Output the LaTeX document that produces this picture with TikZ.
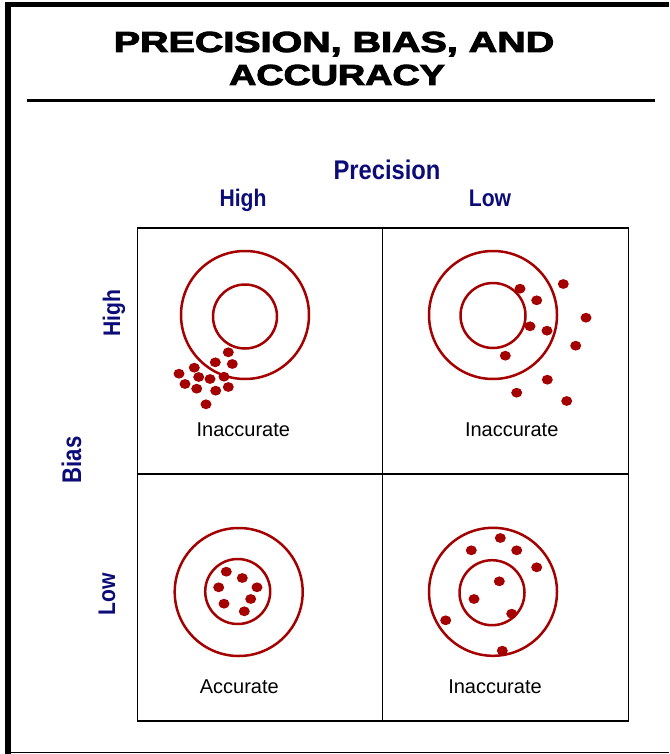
\documentclass[tikz,border=0pt]{standalone}
\usepackage{graphicx}
\usepackage{fontspec}
\setmainfont{Liberation Sans}
\newfontfamily\titlefont[FakeBold=3]{Liberation Sans Bold}
\usetikzlibrary{positioning}
\definecolor{navy}{RGB}{12,12,120}
\definecolor{target}{RGB}{165,0,0}

\begin{document}
\begin{tikzpicture}[x=1pt, y=-1pt,
    heading/.style={font=\titlefont\fontsize{29}{29}\selectfont, inner sep=0pt, anchor=base},
    axis/.style={text=navy, font=\bfseries\fontsize{24}{24}\selectfont, inner sep=0pt, anchor=base},
    verdict/.style={font=\fontsize{20}{20}\selectfont, inner sep=0pt},
    ring/.style={draw=target, line width=2.5pt},
    hit/.style={fill=target}]
    \useasboundingbox (0,0) rectangle (669,754);
    % page frame
    \draw[line width=5.5pt] (8,754) -- (8,4.5) -- (669,4.5);
    \draw[line width=1.5pt] (8,752.5) -- (669,752.5);
    % title
    \node[heading] (title1) at (334,52) {\scalebox{1.36}[1]{PRECISION, BIAS, AND}};
    \node[heading] (title2) at (337,85) {\scalebox{1.3}[1]{ACCURACY}};
    \draw[line width=3pt] (27,100.5) -- (655,100.5);
    % axes
    \node[axis, font=\bfseries\fontsize{27}{27}\selectfont] (precision) at (387,179) {\scalebox{0.88}[1]{Precision}};
    \node[axis] (phigh) at (243,206) {\scalebox{0.88}[1]{High}};
    \node[axis] (plow) at (490,206) {\scalebox{0.88}[1]{Low}};
    \node[axis, rotate=90, font=\bfseries\fontsize{27}{27}\selectfont] (bias) at (81,460) {\scalebox{0.82}[1]{Bias}};
    \node[axis, rotate=90] (bhigh) at (120,313) {\scalebox{0.88}[1]{High}};
    \node[axis, rotate=90] (blow) at (115,594) {\scalebox{0.88}[1]{Low}};
    % grid
    \draw[line width=1.5pt] (137.5,228) rectangle (628.5,721);
    \draw[line width=1.5pt] (382.5,228) -- (382.5,721);
    \draw[line width=2pt] (137.5,474) -- (628.5,474);
    % high bias, high precision
    \draw[ring] (245,315) circle[radius=64pt];
    \draw[ring] (245,316.5) circle[radius=32pt];
    \foreach \x/\y in {228.3/352.3, 215.3/362.3, 232.3/364, 194.3/367.7, 179/373.7,
        198.7/377, 210/379, 224/376.7, 185/384, 196.7/388.7, 215.7/390.7,
        228.3/387, 206/404.3}
        \fill[hit] (\x,\y) ellipse[x radius=5.5pt, y radius=4.9pt];
    \node[verdict] (v1) at (243.3,429.5) {Inaccurate};
    % high bias, low precision
    \draw[ring] (493,315) circle[radius=64pt];
    \draw[ring] (493,315.5) circle[radius=32.5pt];
    \foreach \x/\y in {520/288.7, 563.3/284, 536.7/300.3, 586/317.7, 530/326.3,
        547/330.7, 575.7/345.7, 505.3/355.7, 547.3/379.7, 516.7/392.7, 566.7/401}
        \fill[hit] (\x,\y) ellipse[x radius=5.5pt, y radius=4.9pt];
    \node[verdict] (v2) at (511.7,429.5) {Inaccurate};
    % low bias, high precision
    \draw[ring] (238.7,592) circle[radius=64pt];
    \draw[ring] (237.7,591.5) circle[radius=32.5pt];
    \foreach \x/\y in {226.3/571.7, 242.3/578, 218.7/587.3, 257/587.3,
        250.7/599, 224/603.7, 244.3/611.3}
        \fill[hit] (\x,\y) ellipse[x radius=5.5pt, y radius=4.9pt];
    \node[verdict] (v3) at (239.3,687) {Accurate};
    % low bias, low precision
    \draw[ring] (493,591.8) circle[radius=64pt];
    \draw[ring] (492,592.7) circle[radius=32.5pt];
    \foreach \x/\y in {500.3/538, 471.3/550.3, 516.7/550.3, 536.7/567.3, 499.3/581.3,
        474/599, 511.7/613.7, 445.7/620.3, 502.3/650.7}
        \fill[hit] (\x,\y) ellipse[x radius=5.5pt, y radius=4.9pt];
    \node[verdict] (v4) at (495,687) {Inaccurate};
\end{tikzpicture}
\end{document}
